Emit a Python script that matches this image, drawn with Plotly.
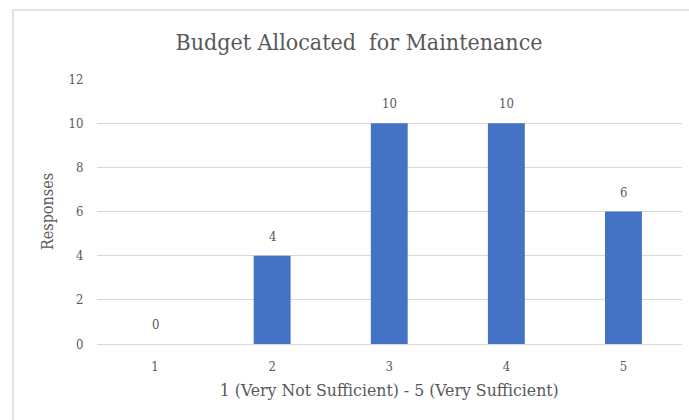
import plotly.graph_objects as go

# Survey responses on a 1-5 sufficiency scale
categories = ["1", "2", "3", "4", "5"]
responses = [0, 4, 10, 10, 6]
y_ticks = [0, 2, 4, 6, 8, 10, 12]

W, H = 689, 420
TEXT = "#595959"
GRID = "#d9d9d9"
BAR = "#4472c4"
FONT = "DejaVu Serif Condensed, DejaVu Serif, serif"

fig = go.Figure(
    go.Bar(
        x=categories,
        y=responses,
        marker=dict(color=BAR, line=dict(width=0)),
        hoverinfo="skip",
    )
)

# Value labels above each bar (category axis positions are indices)
for i, v in enumerate(responses):
    fig.add_annotation(
        x=i, y=v, text=str(v), showarrow=False,
        yanchor="bottom", yshift=10,
        font=dict(family=FONT, size=13, color=TEXT),
    )

# Chart frame
fig.add_shape(
    type="rect", xref="paper", yref="paper",
    x0=13 / W, x1=1.02, y0=-0.02, y1=1 - 10 / H,
    line=dict(color=GRID, width=1.5), fillcolor="rgba(0,0,0,0)",
    layer="below",
)

fig.update_layout(
    width=W, height=H,
    margin=dict(l=0, r=0, t=0, b=0, autoexpand=False),
    paper_bgcolor="white", plot_bgcolor="white",
    bargap=0.685,
    showlegend=False,
    font=dict(family=FONT, color=TEXT),
    title=dict(
        text="Budget Allocated  for Maintenance",
        x=359 / W, xanchor="center",
        y=1 - 42 / H, yanchor="middle",
        font=dict(family=FONT, size=23, color=TEXT),
    ),
    xaxis=dict(
        type="category",
        domain=[96.5 / W, 682 / W],
        automargin=False,
        showgrid=False, zeroline=False, showline=False,
        ticks="", ticklabelstandoff=13,
        tickfont=dict(family=FONT, size=13, color=TEXT),
        title=dict(text="1 (Very Not Sufficient) - 5 (Very Sufficient)",
                   font=dict(family=FONT, size=17.5, color=TEXT), standoff=10),
    ),
    yaxis=dict(
        domain=[76 / H, 341 / H],
        range=[0, 12],
        automargin=False,
        tickvals=y_ticks,
        showgrid=True, gridcolor=GRID, gridwidth=1.3,
        zeroline=True, zerolinecolor=GRID, zerolinewidth=1.3,
        showline=False, ticks="", ticklabelstandoff=12,
        tickfont=dict(family=FONT, size=13, color=TEXT),
        title=dict(text="Responses",
                   font=dict(family=FONT, size=16, color=TEXT), standoff=11),
    ),
)

fig.write_html("out.html")
